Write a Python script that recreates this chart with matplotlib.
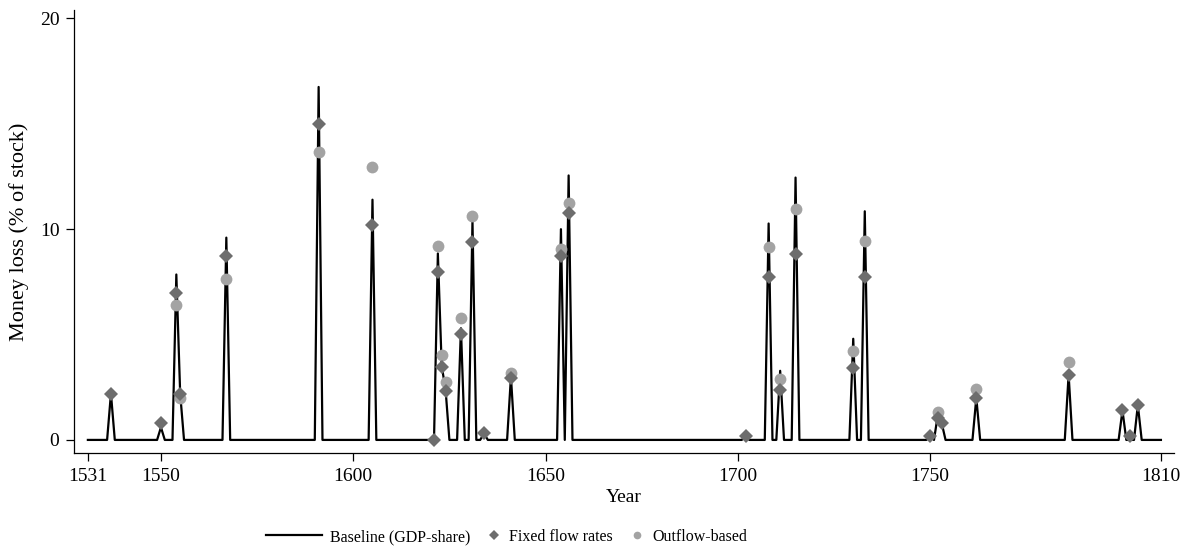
import matplotlib

matplotlib.use("Agg")
import matplotlib.pyplot as plt
import numpy as np

# baseline (GDP-share): annual series 1531-1810, zero except these years
first_year = 1531
last_year = 1810
spike_years = [1537, 1550, 1554, 1555, 1567, 1591, 1605, 1622, 1623, 1624,
               1628, 1631, 1634, 1641, 1654, 1656, 1702, 1708, 1711, 1715,
               1730, 1733, 1750, 1752, 1753, 1762, 1786, 1800, 1804]
spike_values = [2.2, 0.6, 7.85, 2.2, 9.6, 16.75, 11.4, 8.85, 3.5, 2.4,
                5.3, 10.4, 0.3, 3.0, 10.0, 12.55, 0.15, 10.27, 3.28, 12.45,
                4.8, 10.85, 0.15, 1.2, 0.8, 2.0, 3.1, 1.4, 1.65]

# fixed flow rates (diamonds)
fixed_years = [1537, 1550, 1554, 1555, 1567, 1591, 1605, 1621, 1622, 1623,
               1624, 1628, 1631, 1634, 1641, 1654, 1656, 1702, 1708, 1711,
               1715, 1730, 1733, 1750, 1752, 1753, 1762, 1786, 1800, 1802,
               1804]
fixed_values = [2.18, 0.8, 6.95, 2.18, 8.72, 15.0, 10.2, 0.0, 7.96, 3.46,
                2.34, 5.05, 9.4, 0.32, 2.95, 8.72, 10.75, 0.2, 7.74, 2.37,
                8.82, 3.43, 7.74, 0.19, 1.06, 0.79, 1.97, 3.08, 1.42, 0.19,
                1.66]

# outflow-based (circles)
outflow_years = [1554, 1555, 1567, 1591, 1605, 1622, 1623, 1624, 1628, 1631,
                 1641, 1654, 1656, 1708, 1711, 1715, 1730, 1733, 1752, 1762,
                 1786]
outflow_values = [6.4, 2.0, 7.63, 13.65, 12.95, 9.18, 4.03, 2.76, 5.8, 10.63,
                  3.16, 9.08, 11.25, 9.16, 2.89, 10.98, 4.22, 9.45, 1.34, 2.42,
                  3.68]

x_ticks = [1531, 1550, 1600, 1650, 1700, 1750, 1810]
y_ticks = [0, 10, 20]

plt.rcParams["font.family"] = ["Liberation Serif", "DejaVu Serif"]
plt.rcParams["font.size"] = 14

years = np.arange(first_year, last_year + 1)
baseline = np.zeros(len(years))
for yr, val in zip(spike_years, spike_values):
    baseline[yr - first_year] = val

fig = plt.figure(figsize=(11.92, 5.58), dpi=100)
ax = fig.add_axes([0.0621, 0.1882, 0.9228, 0.7938])

line_h, = ax.plot(years, baseline, color="black", linewidth=1.6,
                  label="Baseline (GDP-share)", zorder=2)
circ_h, = ax.plot(outflow_years, outflow_values, linestyle="none", marker="o",
                  markersize=8.5, color="#a3a3a3", markeredgewidth=0,
                  label="Outflow-based", zorder=3)
diam_h, = ax.plot(fixed_years, fixed_values, linestyle="none", marker="D",
                  markersize=7.6, color="#6d6d6d", markeredgewidth=0,
                  label="Fixed flow rates", zorder=4)

ax.set_xlim(1527.4, 1813.4)
ax.set_ylim(-0.62, 20.4)
ax.set_xticks(x_ticks)
ax.set_yticks(y_ticks)
ax.tick_params(direction="out", length=6, width=0.9, pad=4.5, labelsize=14)
for side in ("top", "right"):
    ax.spines[side].set_visible(False)
for side in ("left", "bottom"):
    ax.spines[side].set_linewidth(0.9)

ax.set_xlabel("Year", fontsize=14, labelpad=3)
ax.set_ylabel("Money loss (% of stock)", fontsize=16, labelpad=8)

# legend: long handle for the line, short handles for the markers
leg_y = 1 - 537 / 558
leg1 = fig.legend([line_h], ["Baseline (GDP-share)"], loc="center left",
                  bbox_to_anchor=(266 / 1192, leg_y), frameon=False,
                  fontsize=11.5, handlelength=3.5, handletextpad=0.5,
                  borderpad=0, borderaxespad=0)
fig.legend([diam_h, circ_h], ["Fixed flow rates", "Outflow-based"],
           loc="center left", bbox_to_anchor=(486 / 1192, leg_y), ncol=2,
           frameon=False, fontsize=11.5, handlelength=1.0, handletextpad=0.45,
           columnspacing=1.0, markerscale=0.65, borderpad=0, borderaxespad=0)

fig.savefig("out.png", dpi=100)
